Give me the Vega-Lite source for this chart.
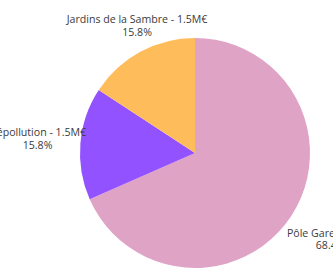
{
  "$schema": "https://vega.github.io/schema/vega-lite/v6.json",
  "width": 276,
  "height": 276,
  "autosize": {"type": "none"},
  "padding": {"left": 57, "top": 15, "right": 0, "bottom": 0},
  "background": "white",
  "config": {"view": {"stroke": null}, "font": "Open Sans"},
  "data": {
    "values": [
      {"idx": 1, "name": "Pôle Gare - 6.5M€", "value": 6.5, "pct": "68.4%"},
      {"idx": 2, "name": "Dépollution - 1.5M€", "value": 1.5, "pct": "15.8%"},
      {"idx": 3, "name": "Jardins de la Sambre - 1.5M€", "value": 1.5, "pct": "15.8%"}
    ]
  },
  "transform": [{"calculate": "datum.name + '\\n' + datum.pct", "as": "label"}],
  "encoding": {
    "theta": {"field": "value", "type": "quantitative", "stack": true},
    "order": {"field": "idx", "type": "quantitative"},
    "color": {
      "field": "name",
      "type": "nominal",
      "scale": {
        "domain": ["Pôle Gare - 6.5M€", "Dépollution - 1.5M€", "Jardins de la Sambre - 1.5M€"],
        "range": ["#DFA3C6", "#9252FF", "#FFBC5A"]
      },
      "legend": null
    }
  },
  "layer": [
    {"mark": {"type": "arc", "outerRadius": 115}},
    {
      "mark": {"type": "text", "radius": 162, "fontSize": 10.6, "lineHeight": 12.5, "lineBreak": "\n", "baseline": "middle", "align": "center", "dy": -8},
      "encoding": {
        "text": {"field": "label"},
        "color": {"value": "#3a3a3a"},
        "opacity": {"condition": {"test": "datum.idx == 1", "value": 1}, "value": 0}
      }
    },
    {
      "mark": {"type": "text", "radius": 158, "fontSize": 10.6, "lineHeight": 12.5, "lineBreak": "\n", "baseline": "middle", "align": "center", "dy": -6.5},
      "encoding": {
        "text": {"field": "label"},
        "color": {"value": "#3a3a3a"},
        "opacity": {"condition": {"test": "datum.idx == 2", "value": 1}, "value": 0}
      }
    },
    {
      "mark": {"type": "text", "radius": 147, "fontSize": 10.6, "lineHeight": 12.5, "lineBreak": "\n", "baseline": "middle", "align": "center", "dy": -3.5, "dx": 12},
      "encoding": {
        "text": {"field": "label"},
        "color": {"value": "#3a3a3a"},
        "opacity": {"condition": {"test": "datum.idx == 3", "value": 1}, "value": 0}
      }
    }
  ]
}
